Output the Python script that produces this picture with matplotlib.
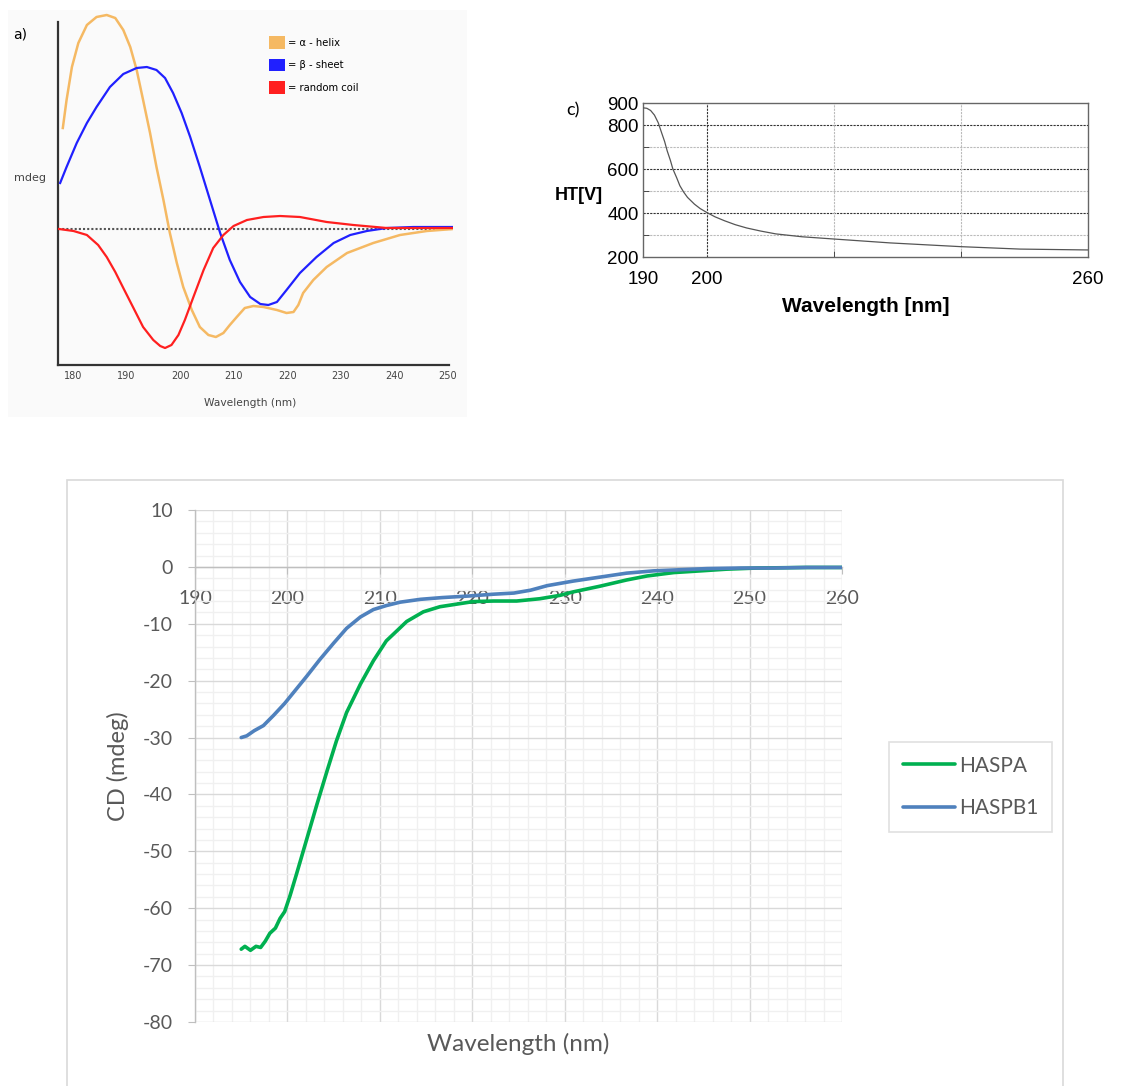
import matplotlib.pyplot as plt
from matplotlib.patches import Patch, Rectangle
from matplotlib.lines import Line2D

plt.rcParams["axes.unicode_minus"] = False

W, H = 1123, 1086

# ---- panel a: reference CD spectra (arbitrary mdeg units) ----
helix_nm = [178.1, 178.8, 179.8, 181.0, 182.6, 184.4, 186.3, 187.9, 189.4, 190.7,
            191.9, 193.1, 194.4, 195.6, 196.9, 198.1, 199.4, 200.6, 202.2, 203.7,
            205.3, 206.7, 208.1, 209.3, 210.6, 212.1, 213.7, 215.6, 218.1, 219.9,
            221.2, 222.1, 223.0, 224.9, 227.4, 231.2, 236.1, 241.1, 246.1, 251.0]
helix_val = [10.1, 12.9, 16.2, 18.6, 20.4, 21.2, 21.4, 21.1, 19.9, 18.2,
             15.9, 12.9, 9.6, 6.2, 2.9, -0.4, -3.4, -5.8, -8.1, -9.8,
             -10.6, -10.8, -10.4, -9.6, -8.8, -7.9, -7.7, -7.8, -8.1, -8.4,
             -8.3, -7.6, -6.4, -5.1, -3.8, -2.4, -1.4, -0.6, -0.2, 0.0]
sheet_nm = [177.6, 178.8, 180.7, 182.6, 184.4, 186.9, 189.4, 191.9, 193.8, 195.6,
            197.2, 198.7, 200.3, 201.9, 203.7, 205.6, 207.5, 209.3, 211.2, 213.1,
            215.0, 216.5, 218.1, 219.9, 222.4, 225.5, 228.7, 231.8, 234.9, 238.6,
            243.6, 251.0]
sheet_val = [4.6, 6.2, 8.6, 10.6, 12.2, 14.2, 15.5, 16.1, 16.2, 15.9,
             15.1, 13.6, 11.6, 9.2, 6.2, 2.9, -0.4, -3.1, -5.3, -6.8,
             -7.5, -7.6, -7.3, -6.1, -4.4, -2.8, -1.4, -0.6, -0.2, 0.1,
             0.2, 0.2]
coil_nm = [177.4, 180.1, 182.6, 184.7, 186.3, 187.9, 189.4, 191.3, 193.1, 195.0,
           196.3, 197.2, 198.4, 199.7, 200.9, 202.5, 204.4, 206.2, 208.1, 210.0,
           212.5, 215.6, 218.7, 222.4, 227.4, 232.4, 238.6, 251.0]
coil_val = [0.0, -0.2, -0.6, -1.6, -2.8, -4.3, -5.9, -7.9, -9.8, -11.1,
            -11.7, -11.9, -11.6, -10.6, -9.1, -6.8, -4.1, -1.9, -0.6, 0.3,
            0.9, 1.2, 1.3, 1.2, 0.7, 0.4, 0.1, 0.1]
a_ticks = [180, 190, 200, 210, 220, 230, 240, 250]
a_labels = ["= \u03b1 - helix", "= \u03b2 - sheet", "= random coil"]
a_colors = ["#f5b963", "#2020ff", "#ff1f1f"]

# ---- panel c: HT voltage ----
ht_nm = [190.0, 190.6, 191.2, 191.8, 192.4, 192.9, 193.4, 193.8, 194.3, 194.7,
         195.3, 195.8, 196.4, 197.0, 198.1, 199.0, 200.0, 201.3, 202.8, 204.5,
         206.3, 208.5, 210.9, 215.0, 219.9, 228.9, 240.0, 249.3, 260.0]
ht_v = [878, 876, 866, 845, 810, 767, 725, 683, 640, 600,
        560, 524, 495, 471, 440, 420, 403, 383, 365, 347,
        332, 318, 305, 292, 282, 264, 247, 236, 232]

# ---- bottom: measured CD spectra ----
haspa_nm = [195.0, 195.4, 196.0, 196.6, 197.1, 197.6, 198.1, 198.7, 199.2, 199.7,
            200.3, 201.0, 202.1, 203.2, 204.3, 205.3, 206.4, 207.9, 209.3, 210.7,
            212.0, 212.9, 214.7, 216.5, 218.5, 220.1, 222.3, 224.8, 227.3, 229.5,
            230.9, 233.8, 236.7, 238.9, 241.8, 244.7, 247.5, 250.8, 256.2, 260.0]
haspa_cd = [-67.2, -66.7, -67.4, -66.7, -66.9, -65.8, -64.4, -63.5, -61.8, -60.6,
            -57.7, -53.9, -47.8, -41.7, -35.8, -30.6, -25.6, -20.6, -16.5, -13.0,
            -11.0, -9.6, -7.9, -7.0, -6.5, -6.1, -6.0, -6.0, -5.6, -5.0,
            -4.4, -3.4, -2.3, -1.6, -1.0, -0.7, -0.4, -0.2, -0.1, -0.1]
haspb1_nm = [195.0, 195.6, 196.4, 197.4, 198.5, 199.7, 200.8, 202.1, 203.5, 205.0,
             206.4, 207.9, 209.3, 210.7, 212.2, 214.4, 216.7, 219.8, 222.3, 224.5,
             226.3, 228.1, 230.9, 233.8, 236.7, 239.6, 242.5, 245.4, 249.0, 252.6,
             256.2, 260.0]
haspb1_cd = [-30.0, -29.7, -28.8, -27.9, -26.1, -24.0, -21.8, -19.2, -16.3, -13.4,
             -10.8, -8.8, -7.5, -6.8, -6.2, -5.7, -5.4, -5.1, -4.8, -4.6,
             -4.1, -3.3, -2.5, -1.8, -1.1, -0.7, -0.5, -0.3, -0.2, -0.2,
             -0.1, -0.1]
series_names = ["HASPA", "HASPB1"]
series_colors = ["#00b050", "#4f81bd"]


def box(l, t, r, b):
    # pixel box -> figure fraction [left, bottom, width, height]
    return [l / W, 1 - b / H, (r - l) / W, (b - t) / H]


def fxy(x, y):
    return x / W, 1 - y / H


fig = plt.figure(figsize=(W / 100, H / 100), dpi=100)

# ================= panel a =================
fig.patches.append(Rectangle((8 / W, 1 - 417 / H), 459 / W, 407 / H,
                             transform=fig.transFigure, facecolor="#fafafa",
                             edgecolor="none", zorder=-5))
axa = fig.add_axes(box(58, 10, 453, 365))
axa.patch.set_alpha(0)
axa.set_xlim(177.2, 251.0)
axa.set_ylim(-13.6, 21.9)
axa.axhline(0, color="#555555", ls=(0, (1, 1)), lw=1.5, zorder=1)
axa.plot(helix_nm, helix_val, color=a_colors[0], lw=1.8, zorder=3)
axa.plot(sheet_nm, sheet_val, color=a_colors[1], lw=1.6, zorder=3)
axa.plot(coil_nm, coil_val, color=a_colors[2], lw=1.6, zorder=3)
for s in ["top", "right"]:
    axa.spines[s].set_visible(False)
for s in ["left", "bottom"]:
    axa.spines[s].set_color("#333333")
    axa.spines[s].set_linewidth(1.6)
axa.spines["left"].set_bounds(-13.6, 20.7)
axa.spines["bottom"].set_bounds(177.2, 250.2)
axa.set_xticks(a_ticks)
axa.set_yticks([])
axa.tick_params(axis="x", length=0, labelsize=7, labelcolor="#444444", pad=4)
handles = [Patch(facecolor=c, edgecolor="none") for c in a_colors]
axa.legend(handles, a_labels, loc="upper left", bbox_to_anchor=fxy(269, 36),
           bbox_transform=fig.transFigure, frameon=False, fontsize=7.2,
           handlelength=1.55, handleheight=1.55, handletextpad=0.3,
           labelspacing=1.0, borderaxespad=0, borderpad=0)
fig.text(*fxy(20, 35), "a)", fontsize=10, ha="center", va="center")
fig.text(*fxy(30, 178), "mdeg", fontsize=8, color="#444444", ha="center", va="center")
fig.text(*fxy(250, 403), "Wavelength (nm)", fontsize=7.7, color="#444444",
         ha="center", va="center")

# ================= panel c =================
axc = fig.add_axes(box(643, 103, 1088, 257))
axc.set_xlim(190, 260)
axc.set_ylim(200, 900)
for y in [300, 500, 700]:
    axc.axhline(y, color="#bbbbbb", ls=(0, (2, 1)), lw=0.8, zorder=1)
for y in [400, 600, 800]:
    axc.axhline(y, color="#333333", ls=(0, (2, 1)), lw=0.8, zorder=1)
for x in [220, 240]:
    axc.axvline(x, color="#bbbbbb", ls=(0, (2, 1)), lw=0.8, zorder=1)
axc.axvline(200, color="#333333", ls=(0, (2, 1)), lw=0.8, zorder=1)
axc.plot(ht_nm, ht_v, color="#555555", lw=0.9, zorder=3)
axc.set_xticks([190, 200, 260])
axc.set_xticks([220, 240], minor=True)
axc.set_yticks([200, 400, 600, 800, 900])
axc.set_yticks([300, 500, 700], minor=True)
axc.tick_params(which="major", length=0, labelsize=13.5)
axc.tick_params(axis="x", which="major", pad=10)
axc.tick_params(axis="y", which="major", pad=3)
axc.tick_params(which="minor", direction="in", length=4, color="#333333")
for lab in axc.get_xticklabels() + axc.get_yticklabels():
    lab.set_family("Liberation Sans")
for s in axc.spines.values():
    s.set_color("#666666")
    s.set_linewidth(1.0)
fig.text(*fxy(579, 195), "HT[V]", fontsize=13, fontweight="bold",
         family="Liberation Sans", ha="center", va="center")
fig.text(*fxy(866, 306), "Wavelength [nm]", fontsize=15, fontweight="bold",
         family="Liberation Sans", ha="center", va="center")
fig.text(*fxy(573, 110), "c)", fontsize=13, family="Lato", ha="center", va="center")

# ================= bottom chart =================
fig.patches.append(Rectangle((67 / W, -0.01), 996 / W, (H - 480) / H + 0.01,
                             transform=fig.transFigure, fill=False,
                             edgecolor="#d9d9d9", lw=1.2))
axb = fig.add_axes(box(195, 510, 842, 1022))
axb.set_xlim(190, 260)
axb.set_ylim(-80, 10)
axb.set_xticks(range(190, 261, 10))
axb.set_xticks(range(190, 261, 2), minor=True)
axb.set_yticks(range(-80, 11, 10))
axb.set_yticks(range(-80, 11, 2), minor=True)
axb.set_axisbelow(True)
axb.grid(which="minor", color="#f0f0f0", lw=1.0)
axb.grid(which="major", color="#d9d9d9", lw=1.0)
axb.plot(haspa_nm, haspa_cd, color=series_colors[0], lw=2.6, label=series_names[0],
         solid_capstyle="round", zorder=3)
axb.plot(haspb1_nm, haspb1_cd, color=series_colors[1], lw=2.6, label=series_names[1],
         solid_capstyle="round", zorder=3)
for s in ["top", "right"]:
    axb.spines[s].set_visible(False)
axb.spines["bottom"].set_position(("data", 0))
for s in ["left", "bottom"]:
    axb.spines[s].set_color("#bfbfbf")
    axb.spines[s].set_linewidth(1.0)
axb.tick_params(which="major", length=5, color="#bfbfbf", labelsize=14,
                labelcolor="#595959")
axb.tick_params(axis="x", which="major", pad=12)
axb.tick_params(axis="y", which="major", pad=11)
axb.tick_params(which="minor", length=0)
for lab in axb.get_xticklabels() + axb.get_yticklabels():
    lab.set_family("Lato")
fig.text(*fxy(118, 766), "CD (mdeg)", fontsize=17, color="#595959", family="Lato",
         rotation=90, ha="center", va="center")
fig.text(*fxy(518, 1044), "Wavelength (nm)", fontsize=17.5, color="#595959",
         family="Lato", ha="center", va="center")
leg_handles = [Line2D([], [], color=c, lw=2.6, solid_capstyle="round")
               for c in series_colors]
leg = fig.legend(leg_handles, series_names, loc="upper left",
                 bbox_to_anchor=fxy(889, 742), frameon=True,
                 fancybox=False, edgecolor="#d9d9d9", handlelength=2.5,
                 handletextpad=0.2, labelspacing=1.1, borderpad=0.65,
                 borderaxespad=0, prop={"family": "Lato", "size": 15})
leg.get_frame().set_linewidth(1.2)
for t in leg.get_texts():
    t.set_color("#595959")

fig.savefig("out.png", dpi=100)
